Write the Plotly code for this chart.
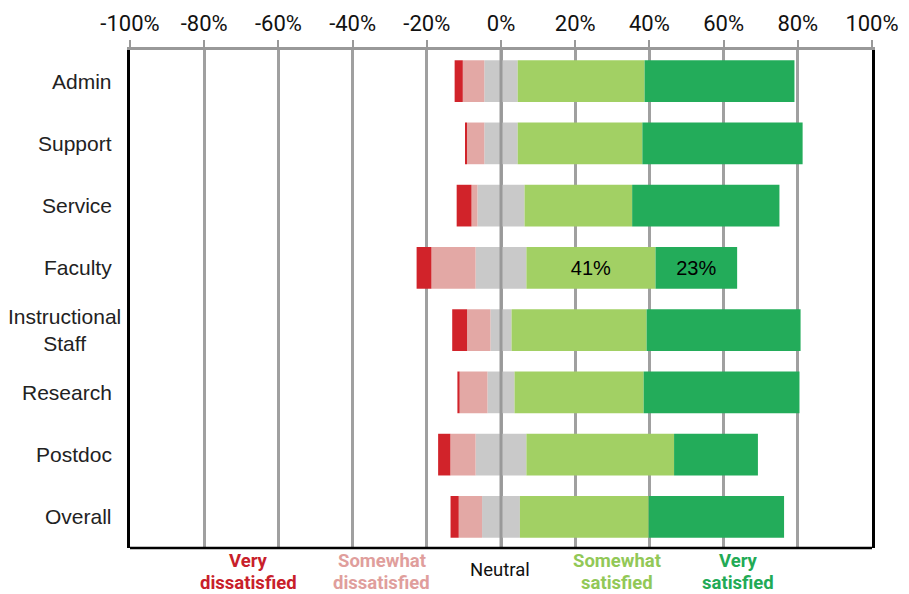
import plotly.graph_objects as go

categories = ["Admin", "Support", "Service", "Faculty", "Instructional Staff", "Research", "Postdoc", "Overall"]
category_labels = ["Admin", "Support", "Service", "Faculty", "Instructional<br>Staff", "Research", "Postdoc", "Overall"]
very_dissatisfied = [2.2, 0.5, 4.0, 4.0, 4.0, 0.6, 3.3, 2.2]
somewhat_dissatisfied = [5.8, 4.7, 1.6, 11.9, 6.3, 7.5, 6.8, 6.3]
neutral = [9.0, 9.0, 12.7, 13.7, 5.7, 7.3, 13.7, 10.2]
somewhat_satisfied = [34.2, 33.6, 29.0, 34.8, 36.4, 34.8, 39.8, 34.7]
very_satisfied = [40.4, 43.2, 39.7, 22.0, 41.5, 42.0, 22.6, 36.5]
ss_labels = ["", "", "", "41%", "", "", "", ""]
vs_labels = ["", "", "", "23%", "", "", "", ""]
tick_values = [-100, -80, -60, -40, -20, 0, 20, 40, 60, 80, 100]
tick_text = ["-100%", "-80%", "-60%", "-40%", "-20%", "0%", "20%", "40%", "60%", "80%", "100%"]
legend_lines = [("Very", "dissatisfied"), ("Somewhat", "dissatisfied"), ("Neutral",),
                ("Somewhat", "satisfied"), ("Very", "satisfied")]
legend_x = [-68.0, -32.1, -0.3, 31.2, 64.0]

C_VD = "#D1232A"
C_SD = "#E3A8A5"
C_N = "#C9C9C9"
C_SS = "#A2D064"
C_VS = "#23AC5A"
legend_colors = ["#C8202A", "#E09E9C", "#111111", "#92C857", "#22AA55"]

fig = go.Figure()
common = dict(orientation="h", y=categories, hoverinfo="skip", marker_line_width=0)
fig.add_trace(go.Bar(x=[-v / 2 for v in neutral], marker_color=C_N, **common))
fig.add_trace(go.Bar(x=[v / 2 for v in neutral], marker_color=C_N, **common))
fig.add_trace(go.Bar(x=[-v for v in somewhat_dissatisfied], marker_color=C_SD, **common))
fig.add_trace(go.Bar(x=[-v for v in very_dissatisfied], marker_color=C_VD, **common))
fig.add_trace(go.Bar(x=somewhat_satisfied, marker_color=C_SS, text=ss_labels,
                     textposition="inside", insidetextanchor="middle",
                     textfont=dict(size=20, color="black", family="Liberation Sans"), **common))
fig.add_trace(go.Bar(x=very_satisfied, marker_color=C_VS, text=vs_labels,
                     textposition="inside", insidetextanchor="middle",
                     textfont=dict(size=20, color="black", family="Liberation Sans"), **common))

# bottom legend-like labels
for lines, xv, col in zip(legend_lines, legend_x, legend_colors):
    if len(lines) == 1:
        fig.add_annotation(x=xv, xref="x", y=0, yref="paper", yanchor="middle", yshift=-22,
                           text=lines[0], showarrow=False, borderpad=0,
                           font=dict(size=18.5, color=col, family="Roboto"))
    else:
        for ln, ys in zip(lines, [-13, -35]):
            fig.add_annotation(x=xv, xref="x", y=0, yref="paper", yanchor="middle", yshift=ys,
                               text="<b>" + ln + "</b>", showarrow=False, borderpad=0,
                               font=dict(size=18.5, color=col, family="Roboto"))

# category labels
for cat, lab in zip(categories, category_labels):
    if "<br>" in lab:
        fig.add_annotation(x=0, xref="paper", y=cat, yref="y", xanchor="right", xshift=-7,
                           text=lab, align="center", showarrow=False,
                           font=dict(size=21, color="#222222", family="Liberation Sans"))
    else:
        fig.add_annotation(x=0, xref="paper", y=cat, yref="y", xanchor="right", xshift=-16,
                           text=lab, showarrow=False,
                           font=dict(size=21, color="#222222", family="Liberation Sans"))

# zero line above bars
fig.add_shape(type="line", x0=0, x1=0, xref="x", y0=0, y1=1, yref="paper",
              line=dict(color="#999999", width=3), layer="above")
# bottom border
fig.add_shape(type="line", x0=0, x1=1, xref="paper", y0=0, y1=0, yref="paper",
              line=dict(color="black", width=2.5), layer="above")

fig.update_layout(
    width=909, height=594,
    margin=dict(l=130, r=37, t=50, b=46),
    barmode="relative", bargap=0.33,
    showlegend=False,
    plot_bgcolor="white", paper_bgcolor="white",
    font=dict(family="Liberation Sans, Arial", size=20, color="#222222"),
    xaxis=dict(side="top", range=[-100, 100], tickmode="array", tickvals=tick_values, ticktext=tick_text,
               showgrid=True, gridcolor="#A0A0A0", gridwidth=2.5, automargin=False,
               zeroline=False, showline=True, linecolor="#999999", linewidth=2.5,
               ticks="outside", ticklen=7, tickcolor="#999999", tickwidth=2,
               tickfont=dict(size=22, family="Roboto", color="#111111")),
    yaxis=dict(autorange="reversed", showline=True, mirror=True, linecolor="black", linewidth=2.5,
               ticks="", showticklabels=False, showgrid=False, automargin=False),
)

fig.write_html("out.html")
